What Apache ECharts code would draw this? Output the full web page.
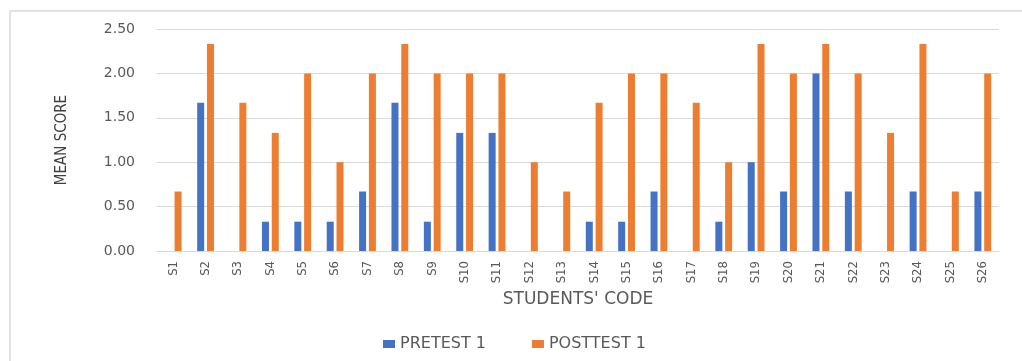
<!DOCTYPE html>
<html>
<head>
<meta charset="utf-8">
<script src="https://cdn.jsdelivr.net/npm/echarts@6/dist/echarts.min.js"></script>
<style>
html,body{margin:0;padding:0;background:#fff;}
#chart{width:1022px;height:361px;}
</style>
</head>
<body>
<div id="chart"></div>
<script>
var categories = ['S1','S2','S3','S4','S5','S6','S7','S8','S9','S10','S11','S12','S13','S14','S15','S16','S17','S18','S19','S20','S21','S22','S23','S24','S25','S26'];
var pretest = [0, 1.67, 0, 0.33, 0.33, 0.33, 0.67, 1.67, 0.33, 1.33, 1.33, 0, 0, 0.33, 0.33, 0.67, 0, 0.33, 1.00, 0.67, 2.00, 0.67, 0, 0.67, 0, 0.67];
var posttest = [0.67, 2.33, 1.67, 1.33, 2.00, 1.00, 2.00, 2.33, 2.00, 2.00, 2.00, 1.00, 0.67, 1.67, 2.00, 2.00, 1.67, 1.00, 2.33, 2.00, 2.33, 2.00, 1.33, 2.33, 0.67, 2.00];
var seriesNames = ['PRETEST 1', 'POSTTEST 1'];
var yTicks = {min: 0, max: 2.5, interval: 0.5};

var chart = echarts.init(document.getElementById('chart'));
chart.setOption({
  animation: false,
  backgroundColor: '#ffffff',
  graphic: [{
    type: 'rect',
    shape: {x: 10, y: 11, width: 1100, height: 400},
    style: {fill: 'none', stroke: '#d9d9d9', lineWidth: 1.5},
    silent: true
  }],
  grid: {left: 157, right: 23, top: 29, bottom: 110},
  legend: {
    left: 378, top: 331,
    itemWidth: 12, itemHeight: 8, itemGap: 46,
    icon: 'rect',
    textStyle: {fontFamily: 'DejaVu Sans', fontSize: 16, color: '#595959'},
    data: seriesNames
  },
  xAxis: {
    type: 'category',
    data: categories,
    name: "STUDENTS' CODE",
    nameLocation: 'middle',
    nameGap: 39,
    nameTextStyle: {fontFamily: 'DejaVu Sans', fontSize: 17, color: '#595959'},
    axisLine: {lineStyle: {color: '#d9d9d9'}},
    axisTick: {show: false},
    axisLabel: {rotate: 90, margin: 10, fontFamily: 'DejaVu Sans Condensed', fontSize: 13, color: '#595959', interval: 0}
  },
  yAxis: {
    type: 'value',
    min: yTicks.min, max: yTicks.max, interval: yTicks.interval,
    name: 'MEAN SCORE',
    nameLocation: 'middle',
    nameGap: 87,
    nameTextStyle: {fontFamily: 'DejaVu Sans Condensed', fontSize: 15, color: '#404040'},
    axisLine: {show: false},
    axisTick: {show: false},
    splitLine: {lineStyle: {color: '#d9d9d9'}},
    axisLabel: {margin: 22, fontFamily: 'DejaVu Sans', fontSize: 14, color: '#595959',
      formatter: function (v) { return v.toFixed(2); }}
  },
  series: [
    {name: seriesNames[0], type: 'bar', data: pretest, barWidth: 7, barGap: '40%', itemStyle: {color: '#4472C4'}},
    {name: seriesNames[1], type: 'bar', data: posttest, barWidth: 7, barGap: '40%', itemStyle: {color: '#ED7D31'}}
  ]
});
</script>
</body>
</html>
